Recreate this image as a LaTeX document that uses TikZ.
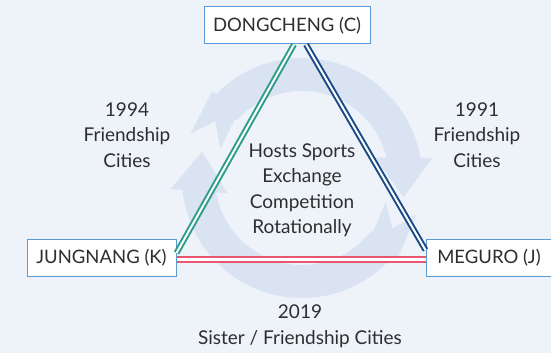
\documentclass[tikz,border=0pt]{standalone}
\usepackage{fontspec}
\setmainfont{Lato}
\usetikzlibrary{arrows.meta,bending}
\definecolor{bgc}{HTML}{EEF3FA}
\definecolor{ringc}{HTML}{D9E3F2}
\definecolor{boxc}{HTML}{5B9BD5}
\definecolor{greenc}{HTML}{2E9C8A}
\definecolor{navyc}{HTML}{1A4A85}
\definecolor{redc}{HTML}{E9566E}
\definecolor{txtc}{HTML}{2E2E2E}
\tikzset{
  citybox/.style={draw=boxc, line width=1pt, fill=white, minimum height=37pt,
    inner xsep=8pt, text=txtc, font=\fontsize{18.5}{22}\selectfont},
  lbl/.style={align=center, text=txtc, font=\fontsize{19}{25.5}\selectfont},
  ringarc/.style={draw=ringc, line width=33pt},
  link/.style={line width=2pt, double=white, double distance=2pt}
}
\begin{document}
\begin{tikzpicture}[x=1pt,y=-1pt]
\fill[bgc] (0,0) rectangle (551,353);
\useasboundingbox (0,0) rectangle (551,353);
\clip (0,0) rectangle (551,353);
% circular arrows
\coordinate (rc) at (302,178);
\draw[ringarc, {Triangle Cap[reversed,length=22pt]}-{Triangle[width=54pt,length=40pt]}]
  (rc) ++(201:103.5) arc[start angle=201, end angle=371, radius=103.5];
\draw[ringarc, {Triangle Cap[reversed,length=22pt]}-{Triangle[width=54pt,length=40pt]}]
  (rc) ++(17:103.5) arc[start angle=17, end angle=195, radius=103.5];
% nodes
\node[citybox, minimum width=166pt] (dc) at (287,25.5) {DONGCHENG (C)};
\node[citybox, minimum width=149pt] (jn) at (101.5,258) {JUNGNANG (K)};
\node[citybox, minimum width=126pt] (mg) at (489,258) {MEGURO (J)};
% links
\draw[link, draw=greenc] ([yshift=5pt]jn.east) -- ([xshift=7pt]dc.south);
\draw[link, draw=navyc] ([xshift=19pt]dc.south) -- ([yshift=8pt]mg.west);
\draw[line width=2.2pt, double=white, double distance=3.5pt, draw=redc]
  ([yshift=-1.5pt]jn.east) -- ([yshift=-1.5pt]mg.west);
% labels
\node[lbl] (l1) at (127,135) {1994\\Friendship\\Cities};
\node[lbl] (l2) at (477,135) {1991\\Friendship\\Cities};
\node[lbl] (l3) at (302,190) {Hosts Sports\\Exchange\\Competition\\Rotationally};
\node[lbl] (l4) at (300,326) {2019\\Sister / Friendship Cities};
\end{tikzpicture}
\end{document}
